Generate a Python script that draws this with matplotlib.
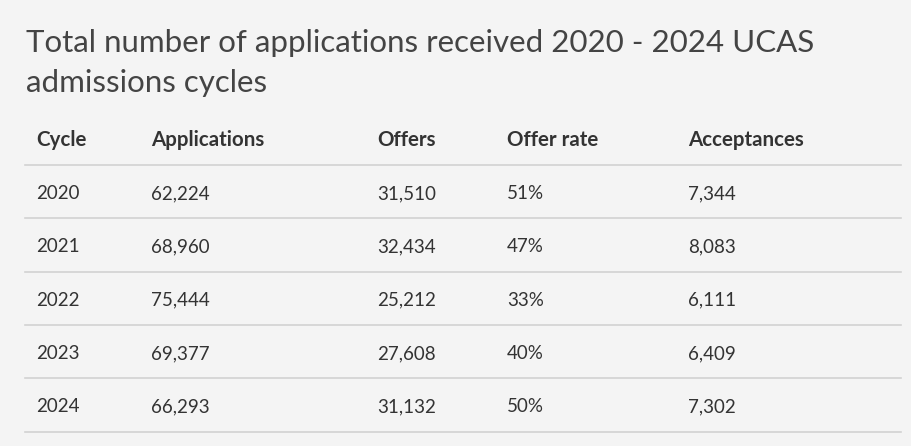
import matplotlib.pyplot as plt

title_lines = ["Total number of applications received 2020 - 2024 UCAS",
               "admissions cycles"]
columns = ["Cycle", "Applications", "Offers", "Offer rate", "Acceptances"]
cycles = ["2020", "2021", "2022", "2023", "2024"]
applications = ["62,224", "68,960", "75,444", "69,377", "66,293"]
offers = ["31,510", "32,434", "25,212", "27,608", "31,132"]
offer_rate = ["51%", "47%", "33%", "40%", "50%"]
acceptances = ["7,344", "8,083", "6,111", "6,409", "7,302"]

W, H = 912, 446
bg = "#f4f4f4"
txt = "#333333"

fig = plt.figure(figsize=(W / 100, H / 100), dpi=100, facecolor=bg)
ax = fig.add_axes([0, 0, 1, 1])
ax.set_xlim(0, W)
ax.set_ylim(H, 0)
ax.axis("off")

font = "Lato"
col_x = [36, 151, 377, 507, 688]
header_base = 146
first_line = 165
row_h = 53.3

# title, two lines placed by baseline
for i, line in enumerate(title_lines):
    ax.text(26, 52 + 40 * i, line, fontsize=22.5, fontfamily=font,
            fontweight="normal", color="#444444", va="baseline")

for x, c in zip(col_x, columns):
    ax.text(x, header_base, c, fontsize=14.8, fontfamily=font, fontweight="bold",
            color=txt, va="baseline")

ax.plot([25, 901], [first_line, first_line], color="#d2d2d2", lw=1.2)
rows = list(zip(cycles, applications, offers, offer_rate, acceptances))
for i, row in enumerate(rows):
    yc = first_line + row_h * (i + 0.5)
    for x, v in zip(col_x, row):
        ax.text(x, yc + 7.5, v, fontsize=13.5, fontfamily=font, color=txt,
                va="baseline")
    yl = first_line + row_h * (i + 1)
    ax.plot([25, 901], [yl, yl], color="#d2d2d2", lw=1.2)

fig.savefig("out.png", dpi=100, facecolor=bg)
